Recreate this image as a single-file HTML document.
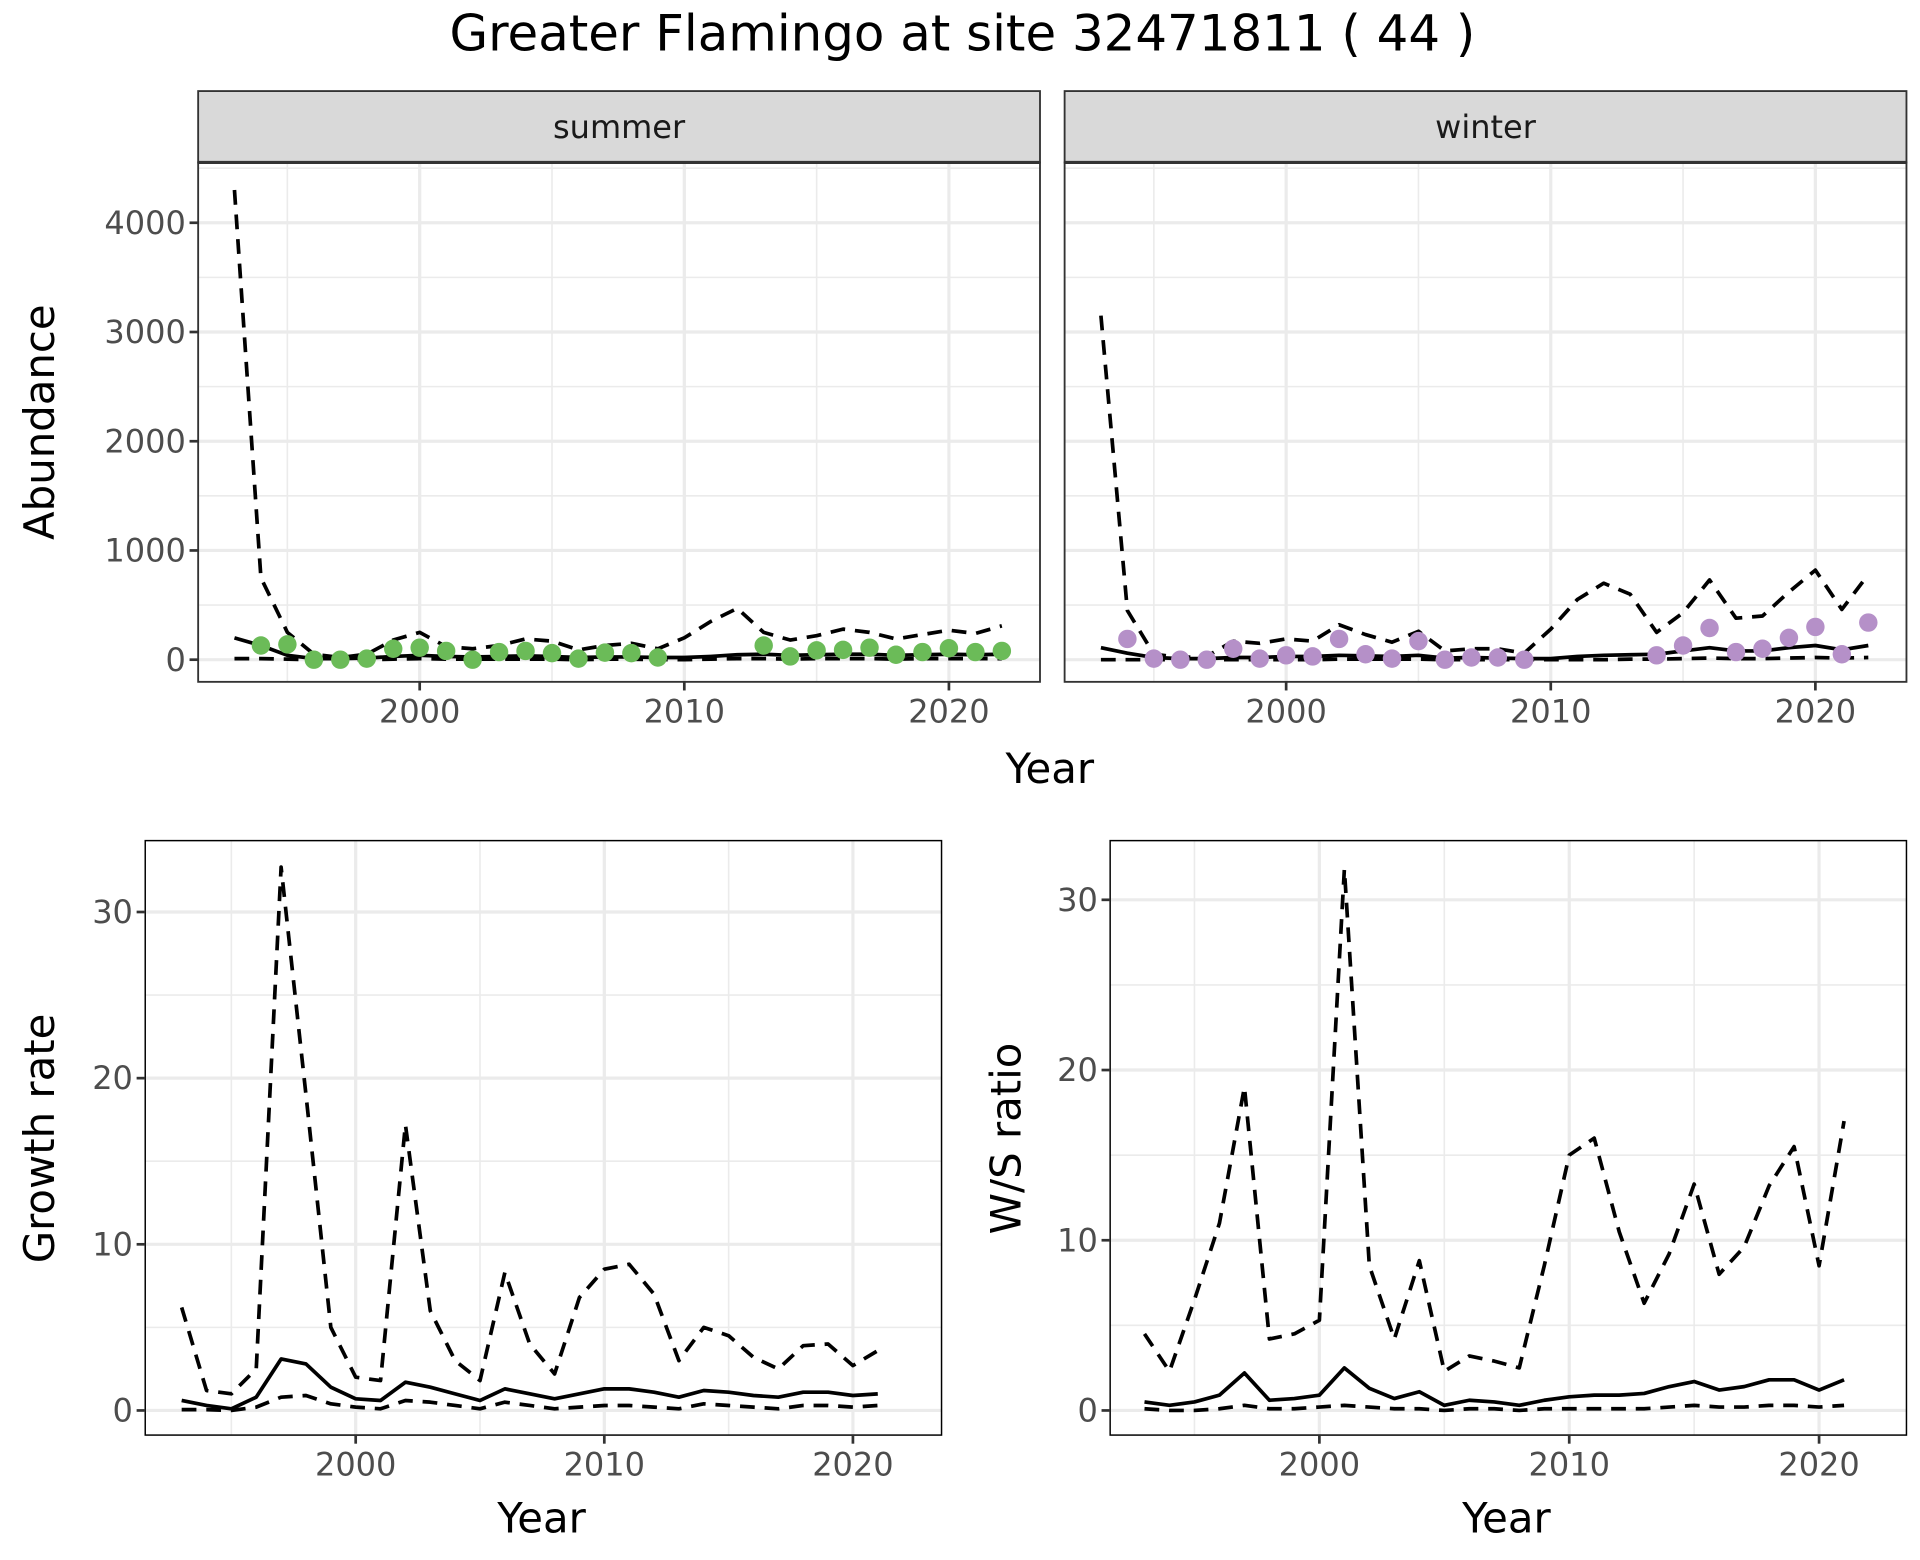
<!DOCTYPE html>
<html><head><meta charset="utf-8"><style>
html,body{margin:0;padding:0;background:#fff}
svg{display:block}
text{font-family:"DejaVu Sans","Liberation Sans",sans-serif}
</style></head><body>
<svg id="chart" width="1920" height="1560" viewBox="0 0 1560 1267.5" preserveAspectRatio="none" xmlns="http://www.w3.org/2000/svg">
<rect width="1560" height="1268" fill="#fff"/>
<text x="782" y="41" font-size="40.5" text-anchor="middle" fill="#000">Greater Flamingo at site 32471811 ( 44 )</text>
</svg>
<script>
const yearsAb = [1993,1994,1995,1996,1997,1998,1999,2000,2001,2002,2003,2004,2005,2006,2007,2008,2009,2010,2011,2012,2013,2014,2015,2016,2017,2018,2019,2020,2021,2022];
const summerUpper = [4300,750,250,50,20,50,180,250,120,100,130,190,170,90,130,150,100,200,350,470,250,180,220,280,250,190,230,270,240,310];
const summerMean = [200,130,40,10,10,15,30,40,30,25,30,35,30,20,25,25,20,20,30,45,50,40,45,50,50,40,45,50,45,50];
const summerLower = [10,10,5,0,0,0,5,10,5,5,5,5,5,0,5,5,0,0,5,10,10,5,10,10,10,5,10,10,10,10];
const summerPtYears = [1994,1995,1996,1997,1998,1999,2000,2001,2002,2003,2004,2005,2006,2007,2008,2009,2013,2014,2015,2016,2017,2018,2019,2020,2021,2022];
const summerPts = [130,140,0,0,10,100,110,80,0,70,80,60,10,65,60,20,130,30,85,90,110,45,70,105,70,80];
const winterUpper = [3150,450,50,20,30,170,150,190,170,320,230,160,260,80,100,100,60,280,550,700,600,250,430,730,380,400,620,820,460,780];
const winterMean = [110,60,20,10,10,20,20,30,30,40,35,30,40,15,20,15,10,10,30,40,45,50,80,110,80,80,110,130,90,130];
const winterLower = [0,0,0,0,0,0,0,0,0,5,5,5,5,0,0,0,0,0,0,0,5,5,10,15,10,10,15,20,15,20];
const winterPtYears = [1994,1995,1996,1997,1998,1999,2000,2001,2002,2003,2004,2005,2006,2007,2008,2009,2014,2015,2016,2017,2018,2019,2020,2021,2022];
const winterPts = [190,10,0,0,100,10,40,30,190,50,10,170,0,20,20,0,40,130,290,70,100,200,300,50,340];
const yearsRate = [1993,1994,1995,1996,1997,1998,1999,2000,2001,2002,2003,2004,2005,2006,2007,2008,2009,2010,2011,2012,2013,2014,2015,2016,2017,2018,2019,2020,2021];
const growthUpper = [6.2,1.2,1.0,2.5,32.7,19,5,2.0,1.8,17.2,6,3,1.8,8.3,4,2.2,6.8,8.5,8.8,7,3,5,4.5,3.2,2.5,3.9,4,2.7,3.6];
const growthMean = [0.6,0.3,0.1,0.8,3.1,2.8,1.4,0.7,0.6,1.7,1.4,1.0,0.6,1.3,1.0,0.7,1.0,1.3,1.3,1.1,0.8,1.2,1.1,0.9,0.8,1.1,1.1,0.9,1.0];
const growthLower = [0.05,0.05,0.0,0.2,0.8,0.9,0.4,0.2,0.1,0.6,0.5,0.3,0.1,0.5,0.3,0.1,0.2,0.3,0.3,0.2,0.1,0.4,0.3,0.2,0.1,0.3,0.3,0.2,0.3];
const wsUpper = [4.5,2.3,6.5,11,19,4.2,4.5,5.3,31.8,8.5,4.2,8.8,2.3,3.2,2.9,2.5,8.5,15,16,10.5,6.3,9.2,13.3,8,9.6,13.2,15.5,8.5,17];
const wsMean = [0.5,0.3,0.5,0.9,2.2,0.6,0.7,0.9,2.5,1.3,0.7,1.1,0.3,0.6,0.5,0.3,0.6,0.8,0.9,0.9,1.0,1.4,1.7,1.2,1.4,1.8,1.8,1.2,1.8];
const wsLower = [0.1,0.0,0.0,0.1,0.3,0.1,0.1,0.2,0.3,0.2,0.1,0.1,0.0,0.1,0.1,0.0,0.1,0.1,0.1,0.1,0.1,0.2,0.3,0.2,0.2,0.3,0.3,0.2,0.3];
const abTicks = [0,1000,2000,3000,4000];
const abMinor = [500,1500,2500,3500,4500];
const rateTicks = [0,10,20,30];
const rateMinor = [5,15,25];
const xTicks = [2000,2010,2020];
const xMinor = [1995,2005,2015];

const svg = document.getElementById('chart');
const NS = 'http://www.w3.org/2000/svg';
function el(tag, attrs, parent){const e=document.createElementNS(NS,tag);for(const k in attrs)e.setAttribute(k,attrs[k]);(parent||svg).appendChild(e);return e;}

function panel(cfg){
  const g = el('g',{});
  
  
  const xs = v => cfg.x0 + (v - 2000) * cfg.xk;
  const ys = v => cfg.y0 - v * cfg.yk;
  el('rect',{x:cfg.L,y:cfg.T,width:cfg.R-cfg.L,height:cfg.B-cfg.T,fill:'#fff'},g);
  cfg.yMinor.forEach(v=>{ if(ys(v)>cfg.T) el('line',{x1:cfg.L,x2:cfg.R,y1:ys(v),y2:ys(v),stroke:'#ebebeb','stroke-width':1.3},g);});
  xMinor.forEach(v=>el('line',{x1:xs(v),x2:xs(v),y1:cfg.T,y2:cfg.B,stroke:'#ebebeb','stroke-width':1.3},g));
  cfg.yTicks.forEach(v=>el('line',{x1:cfg.L,x2:cfg.R,y1:ys(v),y2:ys(v),stroke:'#ebebeb','stroke-width':2.6},g));
  xTicks.forEach(v=>el('line',{x1:xs(v),x2:xs(v),y1:cfg.T,y2:cfg.B,stroke:'#ebebeb','stroke-width':2.6},g));
  function line(arr, years, dashed, nm){
    const p = el('polyline',{points:years.map((y,i)=>xs(y)+','+ys(arr[i])).join(' '),fill:'none',stroke:'#000','stroke-width':3,'stroke-linejoin':'round'},g);
    if(dashed) p.setAttribute('stroke-dasharray','12 8');
    
    
  }
  line(cfg.lower, cfg.years, true, 'lower-bound-line');
  line(cfg.upper, cfg.years, true, 'upper-bound-line');
  line(cfg.mean, cfg.years, false, 'mean-line');
  if(cfg.pts){
    cfg.pts.forEach((v,i)=>{
      const c = el('circle',{cx:xs(cfg.ptYears[i]),cy:ys(v),r:7.5,fill:cfg.color},g);
      
      
    });
  }
  el('rect',{x:cfg.L,y:cfg.T,width:cfg.R-cfg.L,height:cfg.B-cfg.T,fill:'none',stroke:cfg.border,'stroke-width':cfg.bw},g);
  if(cfg.showY){
    cfg.yTicks.forEach(v=>{
      el('line',{x1:cfg.L-7,x2:cfg.L,y1:ys(v),y2:ys(v),stroke:'#333','stroke-width':2.2},g);
      const t = el('text',{x:cfg.L-10,y:ys(v)+9,'font-size':26,'text-anchor':'end',fill:'#4d4d4d'},g);
      t.textContent = v;
      
      
    });
  }
  xTicks.forEach(v=>{
    el('line',{x1:xs(v),x2:xs(v),y1:cfg.B,y2:cfg.B+7,stroke:'#333','stroke-width':2.2},g);
    const t = el('text',{x:xs(v),y:cfg.B+33,'font-size':26,'text-anchor':'middle',fill:'#4d4d4d'},g);
    t.textContent = v;
    
    
  });
  if(cfg.strip){
    const s = el('rect',{x:cfg.L,y:74,width:cfg.R-cfg.L,height:58,fill:'#d9d9d9',stroke:'#333','stroke-width':1.5},g);
    
    
    const t = el('text',{x:(cfg.L+cfg.R)/2,y:112,'font-size':26,'text-anchor':'middle',fill:'#1a1a1a'},g);
    t.textContent = cfg.strip;
    
    
    el('line',{x1:cfg.L,x2:cfg.R,y1:132,y2:132,stroke:'#333','stroke-width':2.5},g);
  }
}

panel({name:'summer-panel',L:161,R:845,T:132,B:554,x0:341,xk:21.5,y0:536,yk:0.08875,yTicks:abTicks,yMinor:abMinor,
  years:yearsAb,upper:summerUpper,mean:summerMean,lower:summerLower,pts:summerPts,ptYears:summerPtYears,color:'#6bbb58',
  border:'#333',bw:1.5,showY:true,strip:'summer'});
panel({name:'winter-panel',L:865,R:1549,T:132,B:554,x0:1045,xk:21.5,y0:536,yk:0.08875,yTicks:abTicks,yMinor:abMinor,
  years:yearsAb,upper:winterUpper,mean:winterMean,lower:winterLower,pts:winterPts,ptYears:winterPtYears,color:'#b590c8',
  border:'#333',bw:1.5,showY:false,strip:'winter'});
panel({name:'growth-rate-panel',L:118,R:765,T:683,B:1166,x0:289,xk:20.2,y0:1146,yk:13.5,yTicks:rateTicks,yMinor:rateMinor,
  years:yearsRate,upper:growthUpper,mean:growthMean,lower:growthLower,border:'#000',bw:1.2,showY:true});
panel({name:'ws-ratio-panel',L:902,R:1549,T:683,B:1166,x0:1072,xk:20.3,y0:1146,yk:13.83,yTicks:rateTicks,yMinor:rateMinor,
  years:yearsRate,upper:wsUpper,mean:wsMean,lower:wsLower,border:'#000',bw:1.2,showY:true});

function label(txt,x,y,rot,nm){
  const t = el('text',{x:x,y:y,'font-size':34,'text-anchor':'middle',fill:'#000'});
  if(rot) t.setAttribute('transform','rotate(-90 '+x+' '+y+')');
  t.textContent = txt;
  
  
}
label('Year',853,636,false,'top-x-axis-title');
label('Abundance',44,343,true,'abundance-axis-title');
label('Year',440,1245,false,'growth-x-axis-title');
label('Growth rate',44,925,true,'growth-rate-axis-title');
label('Year',1224,1245,false,'ws-x-axis-title');
label('W/S ratio',829,925,true,'ws-ratio-axis-title');
</script>
</body></html>
